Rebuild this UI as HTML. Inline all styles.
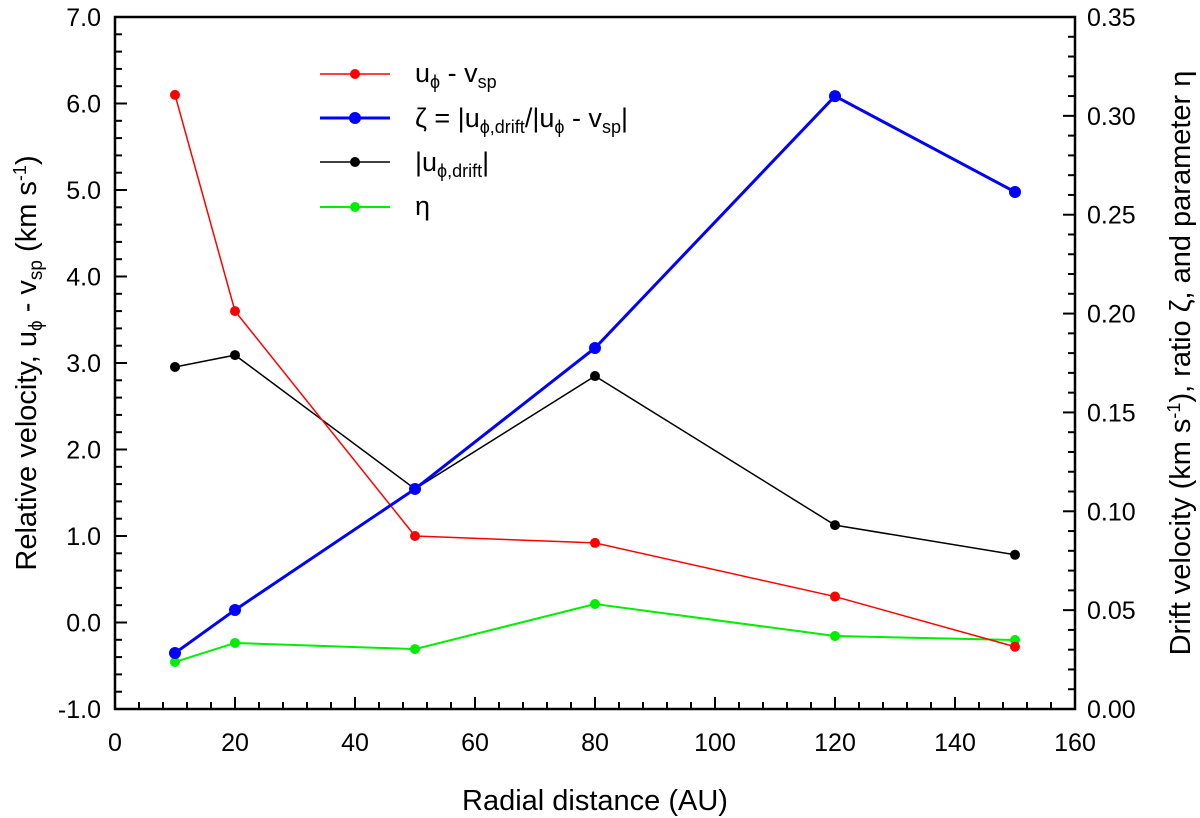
<!DOCTYPE html>
<html><head><meta charset="utf-8"><style>body{margin:0;background:#fff}svg{display:block;font-family:"Liberation Sans",Arial,sans-serif}</style></head>
<body>
<svg id="c" width="1200" height="818"></svg>
<script>
const xs=[10,20,50,80,120,150];
const red=[6.1,3.6,1.0,0.92,0.3,-0.28];
const blue=[0.0283,0.0501,0.1113,0.1826,0.310,0.2615];
const black=[0.173,0.179,0.1113,0.1684,0.093,0.078];
const green=[0.0238,0.0334,0.0303,0.0531,0.0369,0.0349];
const xTicks=[0,20,40,60,80,100,120,140,160];
const yTicks=["-1.0","0.0","1.0","2.0","3.0","4.0","5.0","6.0","7.0"];
const y2Ticks=["0.00","0.05","0.10","0.15","0.20","0.25","0.30","0.35"];
const L=115,R=1075,T=17,B=709;
const X=v=>L+(v/160)*(R-L);
const Y=v=>B-(v+1)/8*(B-T);
const Y2=v=>B-v/0.35*(B-T);
const svg=document.getElementById('c');const NS='http://www.w3.org/2000/svg';
function mk(t,a,p){const e=document.createElementNS(NS,t);for(const k in a)e.setAttribute(k,a[k]);(p||svg).appendChild(e);return e;}
let e=mk('rect',{x:L,y:T,width:R-L,height:B-T,fill:'none',stroke:'#000','stroke-width':2.5});


for(let v=0;v<=160;v+=4){const maj=v%20==0;mk('line',{x1:X(v),x2:X(v),y1:B,y2:B-(maj?12:7),stroke:'#000','stroke-width':2});}
xTicks.forEach(v=>{e=mk('text',{x:X(v),y:B+42,'font-size':25,'text-anchor':'middle'});e.textContent=v;

});
for(let i=0;i<=40;i++){const v=-1+i*0.2;const maj=i%5==0;mk('line',{x1:L,x2:L+(maj?12:7),y1:Y(v),y2:Y(v),stroke:'#000','stroke-width':2});}
yTicks.forEach(s=>{e=mk('text',{x:L-14,y:Y(parseFloat(s))+9,'font-size':25,'text-anchor':'end'});e.textContent=s;

});
for(let i=0;i<=35;i++){const v=i*0.01;const maj=i%5==0;mk('line',{x1:R,x2:R-(maj?12:7),y1:Y2(v),y2:Y2(v),stroke:'#000','stroke-width':2});}
y2Ticks.forEach(s=>{e=mk('text',{x:R+12,y:Y2(parseFloat(s))+9,'font-size':25,'text-anchor':'start'});e.textContent=s;

});
function series(vals,f,col,w,r,name){const pts=vals.map((v,i)=>X(xs[i])+','+f(v)).join(' ');
const g=mk('g',{});
mk('polyline',{points:pts,fill:'none',stroke:col,'stroke-width':w},g);
vals.forEach((v,i)=>{const c=mk('circle',{cx:X(xs[i]),cy:f(v),r:r,fill:col},g);});}
series(black,Y2,'#000',1.5,5,'drift-series');
series(green,Y2,'#00ee00',2,5,'eta-series');
series(red,Y,'#ff0000',1.5,5,'relative-velocity-series');
series(blue,Y2,'#0000ff',3,6,'zeta-series');
</script>
<svg width="1200" height="818" style="position:absolute;left:0;top:0">
<g font-family="Liberation Sans,Arial,sans-serif" font-size="27">
<line x1="320" x2="390" y1="74" y2="74" stroke="#f00" stroke-width="1.5"/><circle cx="355" cy="74" r="5" fill="#f00"/>
<text x="415" y="82">u<tspan font-size="18" dy="6">ϕ</tspan><tspan dy="-6"> - v</tspan><tspan font-size="18" dy="6">sp</tspan></text>
<line x1="320" x2="390" y1="118" y2="118" stroke="#00f" stroke-width="3"/><circle cx="355" cy="118" r="6" fill="#00f"/>
<text x="415" y="127">ζ = |u<tspan font-size="18" dy="6">ϕ,drift</tspan><tspan dy="-6">/|u</tspan><tspan font-size="18" dy="6">ϕ</tspan><tspan dy="-6"> - v</tspan><tspan font-size="18" dy="6">sp</tspan><tspan dy="-6">|</tspan></text>
<line x1="320" x2="390" y1="162" y2="162" stroke="#000" stroke-width="1.5"/><circle cx="355" cy="162" r="5" fill="#000"/>
<text x="415" y="171">|u<tspan font-size="18" dy="6">ϕ,drift</tspan><tspan dy="-6">|</tspan></text>
<line x1="320" x2="390" y1="207" y2="207" stroke="#00ee00" stroke-width="2"/><circle cx="355" cy="207" r="5" fill="#00ee00"/>
<text x="415" y="215">η</text>
</g>
<text x="595" y="810" font-size="29" text-anchor="middle" font-family="Liberation Sans,Arial,sans-serif">Radial distance (AU)</text>
<text transform="translate(36,363) rotate(-90)" font-size="29" text-anchor="middle" font-family="Liberation Sans,Arial,sans-serif">Relative velocity,  u<tspan font-size="19" dy="6">ϕ</tspan><tspan dy="-6"> - v</tspan><tspan font-size="19" dy="6">sp</tspan><tspan dy="-6"> (km s</tspan><tspan font-size="18" dy="-10">-1</tspan><tspan dy="10">)</tspan></text>
<text transform="translate(1190,363) rotate(-90)" font-size="29" text-anchor="middle" font-family="Liberation Sans,Arial,sans-serif">Drift velocity (km s<tspan font-size="18" dy="-10">-1</tspan><tspan dy="10">), ratio ζ, and parameter η</tspan></text>
</svg>
</body></html>
